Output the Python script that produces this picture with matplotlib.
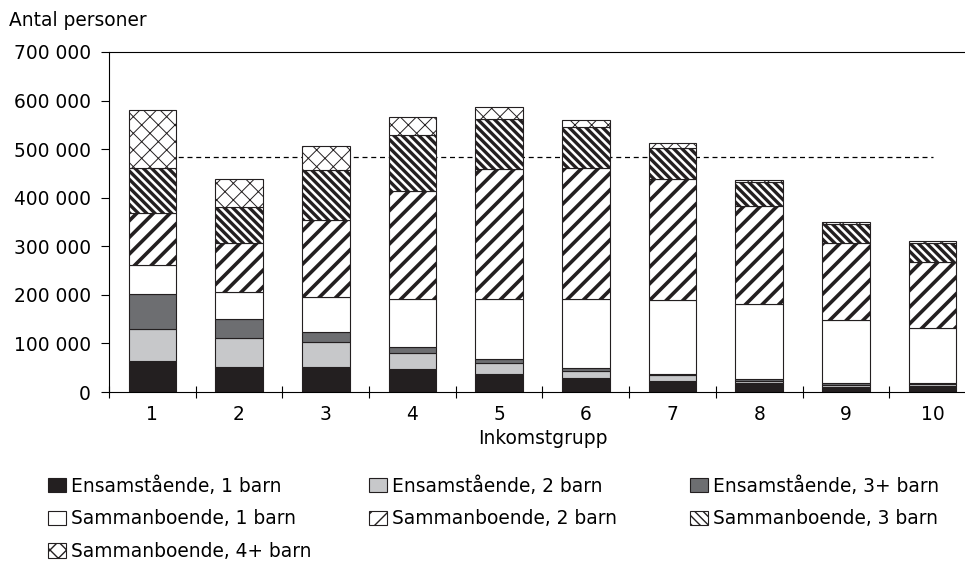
import matplotlib
matplotlib.use("Agg")
import matplotlib.pyplot as plt
import numpy as np
from matplotlib.ticker import FuncFormatter


groups = [1, 2, 3, 4, 5, 6, 7, 8, 9, 10]

# antal personer per hushållstyp (läst ur diagrammet)
ens_1 = [64000, 52000, 52000, 47000, 37000, 29000, 23000, 18000, 11000, 12000]
ens_2 = [65000, 60000, 50000, 33000, 23000, 15000, 11000, 5000, 4000, 4000]
ens_3 = [72000, 38000, 21000, 12000, 7000, 5000, 3000, 3000, 3000, 3000]
sam_1 = [61000, 55000, 73000, 100000, 125000, 143000, 153000, 155000, 130000, 113000]
sam_2 = [107000, 101000, 159000, 222000, 267000, 270000, 249000, 202000, 158000, 136000]
sam_3 = [93000, 75000, 103000, 116000, 103000, 83000, 63000, 49000, 40000, 38000]
sam_4 = [118000, 57000, 48000, 36000, 24000, 16000, 11000, 5000, 4000, 4000]

labels = ["Ensamstående, 1 barn", "Ensamstående, 2 barn", "Ensamstående, 3+ barn",
          "Sammanboende, 1 barn", "Sammanboende, 2 barn", "Sammanboende, 3 barn",
          "Sammanboende, 4+ barn"]

mean_level = 484000

EDGE = "#231f20"
styles = [
    dict(color="#231f20", hatch=None, hlw=1.0),
    dict(color="#c7c8ca", hatch=None, hlw=1.0),
    dict(color="#6d6e71", hatch=None, hlw=1.0),
    dict(color="white", hatch=None, hlw=1.0),
    dict(color="white", hatch="//", hlw=2.6),
    dict(color="white", hatch="\\\\\\\\", hlw=2.4),
    dict(color="white", hatch="xx", hlw=0.7),
]

plt.rcParams["font.family"] = ["DejaVu Sans"]
FS = 13.4


def main():
    fig = plt.figure(figsize=(9.65, 5.62), dpi=100)
    ax = fig.add_axes([109 / 965, 170 / 562, 867 / 965, 340 / 562])

    x = np.array(groups)
    series = [ens_1, ens_2, ens_3, sam_1, sam_2, sam_3, sam_4]
    bottom = np.zeros(len(groups))
    handles = []
    for vals, st, lab in zip(series, styles, labels):
        with plt.rc_context({"hatch.linewidth": st["hlw"]}):
            bars = ax.bar(x, vals, 0.55, bottom=bottom, color=st["color"],
                          edgecolor=EDGE, linewidth=0.8, hatch=st["hatch"],
                          label=lab, zorder=2)
        for p in bars.patches:
            if hasattr(p, "set_hatch_linewidth"):
                p.set_hatch_linewidth(st["hlw"])
        handles.append(bars)
        bottom += np.array(vals)

    ax.plot([groups[0], groups[-1]], [mean_level, mean_level], color="black",
            linestyle=(0, (4, 3)), linewidth=0.9, zorder=1)

    ax.set_xlim(0.5, 10.5)
    ax.set_ylim(0, 700000)
    ax.set_xticks(groups)
    ax.set_xticklabels([str(g) for g in groups])
    ax.set_xticks(np.arange(0.5, 11, 1), minor=True)
    ax.tick_params(axis="x", which="major", length=0, pad=9, labelsize=FS)
    ax.tick_params(axis="x", which="minor", length=8, direction="inout", width=0.8)
    ax.set_yticks(np.arange(0, 700001, 100000))
    ax.yaxis.set_major_formatter(FuncFormatter(lambda v, p: f"{int(v):,}".replace(",", " ")))
    ax.tick_params(axis="y", length=6, width=0.8, pad=7, labelsize=FS)
    for s in ax.spines.values():
        s.set_linewidth(0.8)
    ax.spines["right"].set_visible(False)

    ax.set_xlabel("Inkomstgrupp", fontsize=FS, labelpad=4)
    fig.text(9 / 965, 1 - 21 / 562, "Antal personer", fontsize=FS, va="center", ha="left")

    # legend in three columns, filled row by row
    cols = [[0, 3, 6], [1, 4], [2, 5]]
    xs = [48, 369, 690]
    for idx, cx in zip(cols, xs):
        fig.legend([handles[i] for i in idx], [labels[i] for i in idx],
                   loc="upper left", bbox_to_anchor=(cx / 965, 1 - 476 / 562),
                   frameon=False, fontsize=FS, borderpad=0, borderaxespad=0,
                   handlelength=0.95, handleheight=0.8, handletextpad=0.3,
                   labelspacing=0.74)

    fig.savefig("out.png", dpi=100)


if __name__ == "__main__":
    main()
